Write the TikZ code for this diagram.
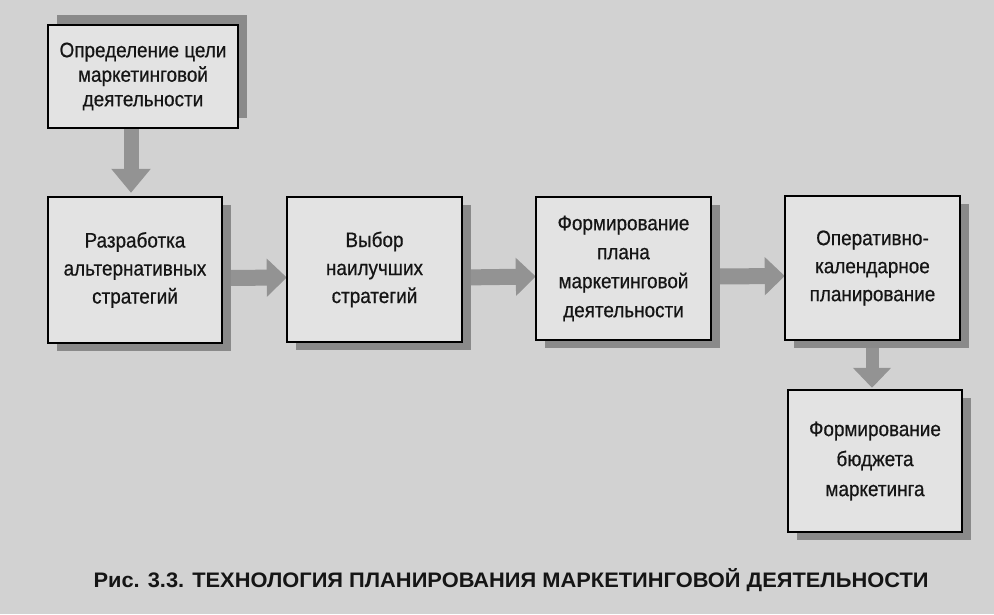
\documentclass[tikz,border=0pt]{standalone}
\usepackage{fontspec}
\setmainfont{Liberation Sans}[FakeStretch=0.9,FakeBold=0.6]
\newfontfamily\capfont{Liberation Sans}[FakeStretch=1.04]
\usetikzlibrary{arrows.meta}
\definecolor{bg}{HTML}{D2D2D2}
\definecolor{boxfill}{HTML}{E3E3E3}
\definecolor{shadowc}{HTML}{8A8A8A}
\definecolor{arrowc}{HTML}{939393}
\definecolor{inkc}{HTML}{151515}
\tikzset{
  stagebox/.style={draw=black, line width=1.8pt, fill=boxfill, align=center,
    inner sep=0pt, text=inkc, font=\fontsize{21}{28}\selectfont},
  frame/.style={draw=none, fill=none, inner sep=0pt},
  blockarrow/.style={draw=arrowc, line width=16pt,
    -{Triangle[width=37pt,length=20pt]}},
}
\begin{document}
\begin{tikzpicture}[x=1pt,y=-1pt]
\useasboundingbox (0,0) rectangle (994,614);
\fill[bg] (0,0) rectangle (994,614);
% frames of the boxes (for shadows and arrows)
\node[frame, minimum width=190pt, minimum height=103pt] (b1) at (143,76.5) {};
\node[frame, minimum width=174pt, minimum height=146pt] (b2) at (135,270) {};
\node[frame, minimum width=175pt, minimum height=145pt] (b3) at (374.5,269.5) {};
\node[frame, minimum width=175pt, minimum height=143pt] (b4) at (623.5,268.5) {};
\node[frame, minimum width=175pt, minimum height=144pt] (b5) at (872.5,268) {};
\node[frame, minimum width=174pt, minimum height=142pt] (b6) at (875,461) {};
% arrows
\coordinate (v1) at (131,0);
\coordinate (v2) at (872,0);
\draw[blockarrow, line width=15pt, -{Triangle[width=38pt,length=24pt]}]
  (v1 |- b1.south) -- ([yshift=4pt]v1 |- b2.north);
\draw[blockarrow] ([yshift=-8pt]b2.east) -- ([yshift=-8pt]b3.west);
\draw[blockarrow] ([yshift=-8pt]b3.east) -- ([yshift=-8pt]b4.west);
\draw[blockarrow] ([yshift=-8pt]b4.east) -- ([yshift=-8pt]b5.west);
\draw[blockarrow, line width=13pt] (v2 |- b5.south) -- ([yshift=2pt]v2 |- b6.north);
% shadows
\fill[shadowc] ([xshift=9pt,yshift=10pt]b1.south east) rectangle ([xshift=9pt,yshift=10pt]b1.north west);
\foreach \b in {b2,b3,b4,b5,b6}{
  \fill[shadowc] ([xshift=9pt,yshift=-8pt]\b.south east) rectangle ([xshift=9pt,yshift=-8pt]\b.north west);
}
% boxes
\node[stagebox, minimum width=190pt, minimum height=103pt,
  font=\fontsize{21}{24.5}\selectfont] (t1) at (b1.center)
  {Определение цели\\маркетинговой\\деятельности};
\node[stagebox, minimum width=174pt, minimum height=146pt] (t2) at (b2.center)
  {Разработка\\альтернативных\\стратегий};
\node[stagebox, minimum width=175pt, minimum height=145pt] (t3) at (b3.center)
  {Выбор\\наилучших\\стратегий};
\node[stagebox, minimum width=175pt, minimum height=143pt,
  font=\fontsize{21}{29}\selectfont] (t4) at (b4.center)
  {Формирование\\плана\\маркетинговой\\деятельности};
\node[stagebox, minimum width=175pt, minimum height=144pt] (t5) at (b5.center)
  {Оперативно-\\календарное\\планирование};
\node[stagebox, minimum width=174pt, minimum height=142pt,
  font=\fontsize{21}{30}\selectfont] (t6) at (b6.center)
  {Формирование\\бюджета\\маркетинга};
% caption
\node[font=\capfont\bfseries\fontsize{21}{24}\selectfont, text=inkc, inner sep=0pt] (cap) at (511,580)
  {Рис. 3.3. ТЕХНОЛОГИЯ ПЛАНИРОВАНИЯ МАРКЕТИНГОВОЙ ДЕЯТЕЛЬНОСТИ};
\end{tikzpicture}
\end{document}
